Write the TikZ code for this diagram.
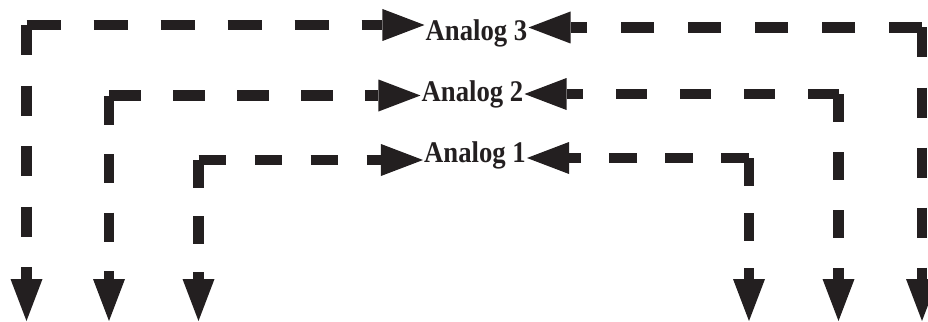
\documentclass[tikz,border=0pt]{standalone}
\usepackage{fontspec}
\newfontfamily\labelfont[FakeStretch=0.89]{Liberation Serif}
\usetikzlibrary{arrows.meta}
\definecolor{ink}{RGB}{35,31,32}
\begin{document}
\begin{tikzpicture}[x=1pt,y=-1pt,
  conn/.style={draw=ink, line width=10.5pt, -{Triangle[length=42pt,width=32pt,line width=0pt]}},
  lab/.style={font=\labelfont\bfseries\fontsize{30}{31}\selectfont, text=ink, inner sep=1pt, anchor=base}]
\useasboundingbox (0,0) rectangle (928,321);

\coordinate (c3l) at (26.5,25);
\coordinate (b3l) at (26.5,321);
\coordinate (c3r) at (922,27.5);
\coordinate (b3r) at (922,321);
\coordinate (c2l) at (109,95.5);
\coordinate (b2l) at (109,321);
\coordinate (c2r) at (838.5,94);
\coordinate (b2r) at (838.5,321);
\coordinate (c1l) at (198.5,160);
\coordinate (b1l) at (198.5,321);
\coordinate (c1r) at (749,158);
\coordinate (b1r) at (749,321);

\node[lab] (a3) at (476.5,41) {Analog 3};
\node[lab] (a2) at (472.5,101) {Analog 2};
\node[lab] (a1) at (475,162) {Analog 1};

% Analog 3
\draw[conn, dash pattern=on 34pt off 33pt] (c3l) -- (c3l -| a3.west);
\draw[conn, dash pattern=on 30pt off 30.5pt] (c3l) -- (b3l);
\draw[conn, dash pattern=on 33pt off 34pt] (c3r) -- (c3r -| a3.east);
\draw[conn, dash pattern=on 30pt off 30pt] (c3r) -- (b3r);
% Analog 2
\draw[conn, dash pattern=on 32pt off 32pt] (c2l) -- (c2l -| a2.west);
\draw[conn, dash pattern=on 29pt off 29.5pt] (c2l) -- (b2l);
\draw[conn, dash pattern=on 31pt off 33pt] (c2r) -- (c2r -| a2.east);
\draw[conn, dash pattern=on 28pt off 30pt] (c2r) -- (b2r);
% Analog 1
\draw[conn, dash pattern=on 27.5pt off 28.5pt] (c1l) -- (c1l -| a1.west);
\draw[conn, dash pattern=on 28pt off 28pt] (c1l) -- (b1l);
\draw[conn, dash pattern=on 28pt off 28pt] (c1r) -- (c1r -| a1.east);
\draw[conn, dash pattern=on 27.5pt off 27.5pt] (c1r) -- (b1r);
\end{tikzpicture}
\end{document}
